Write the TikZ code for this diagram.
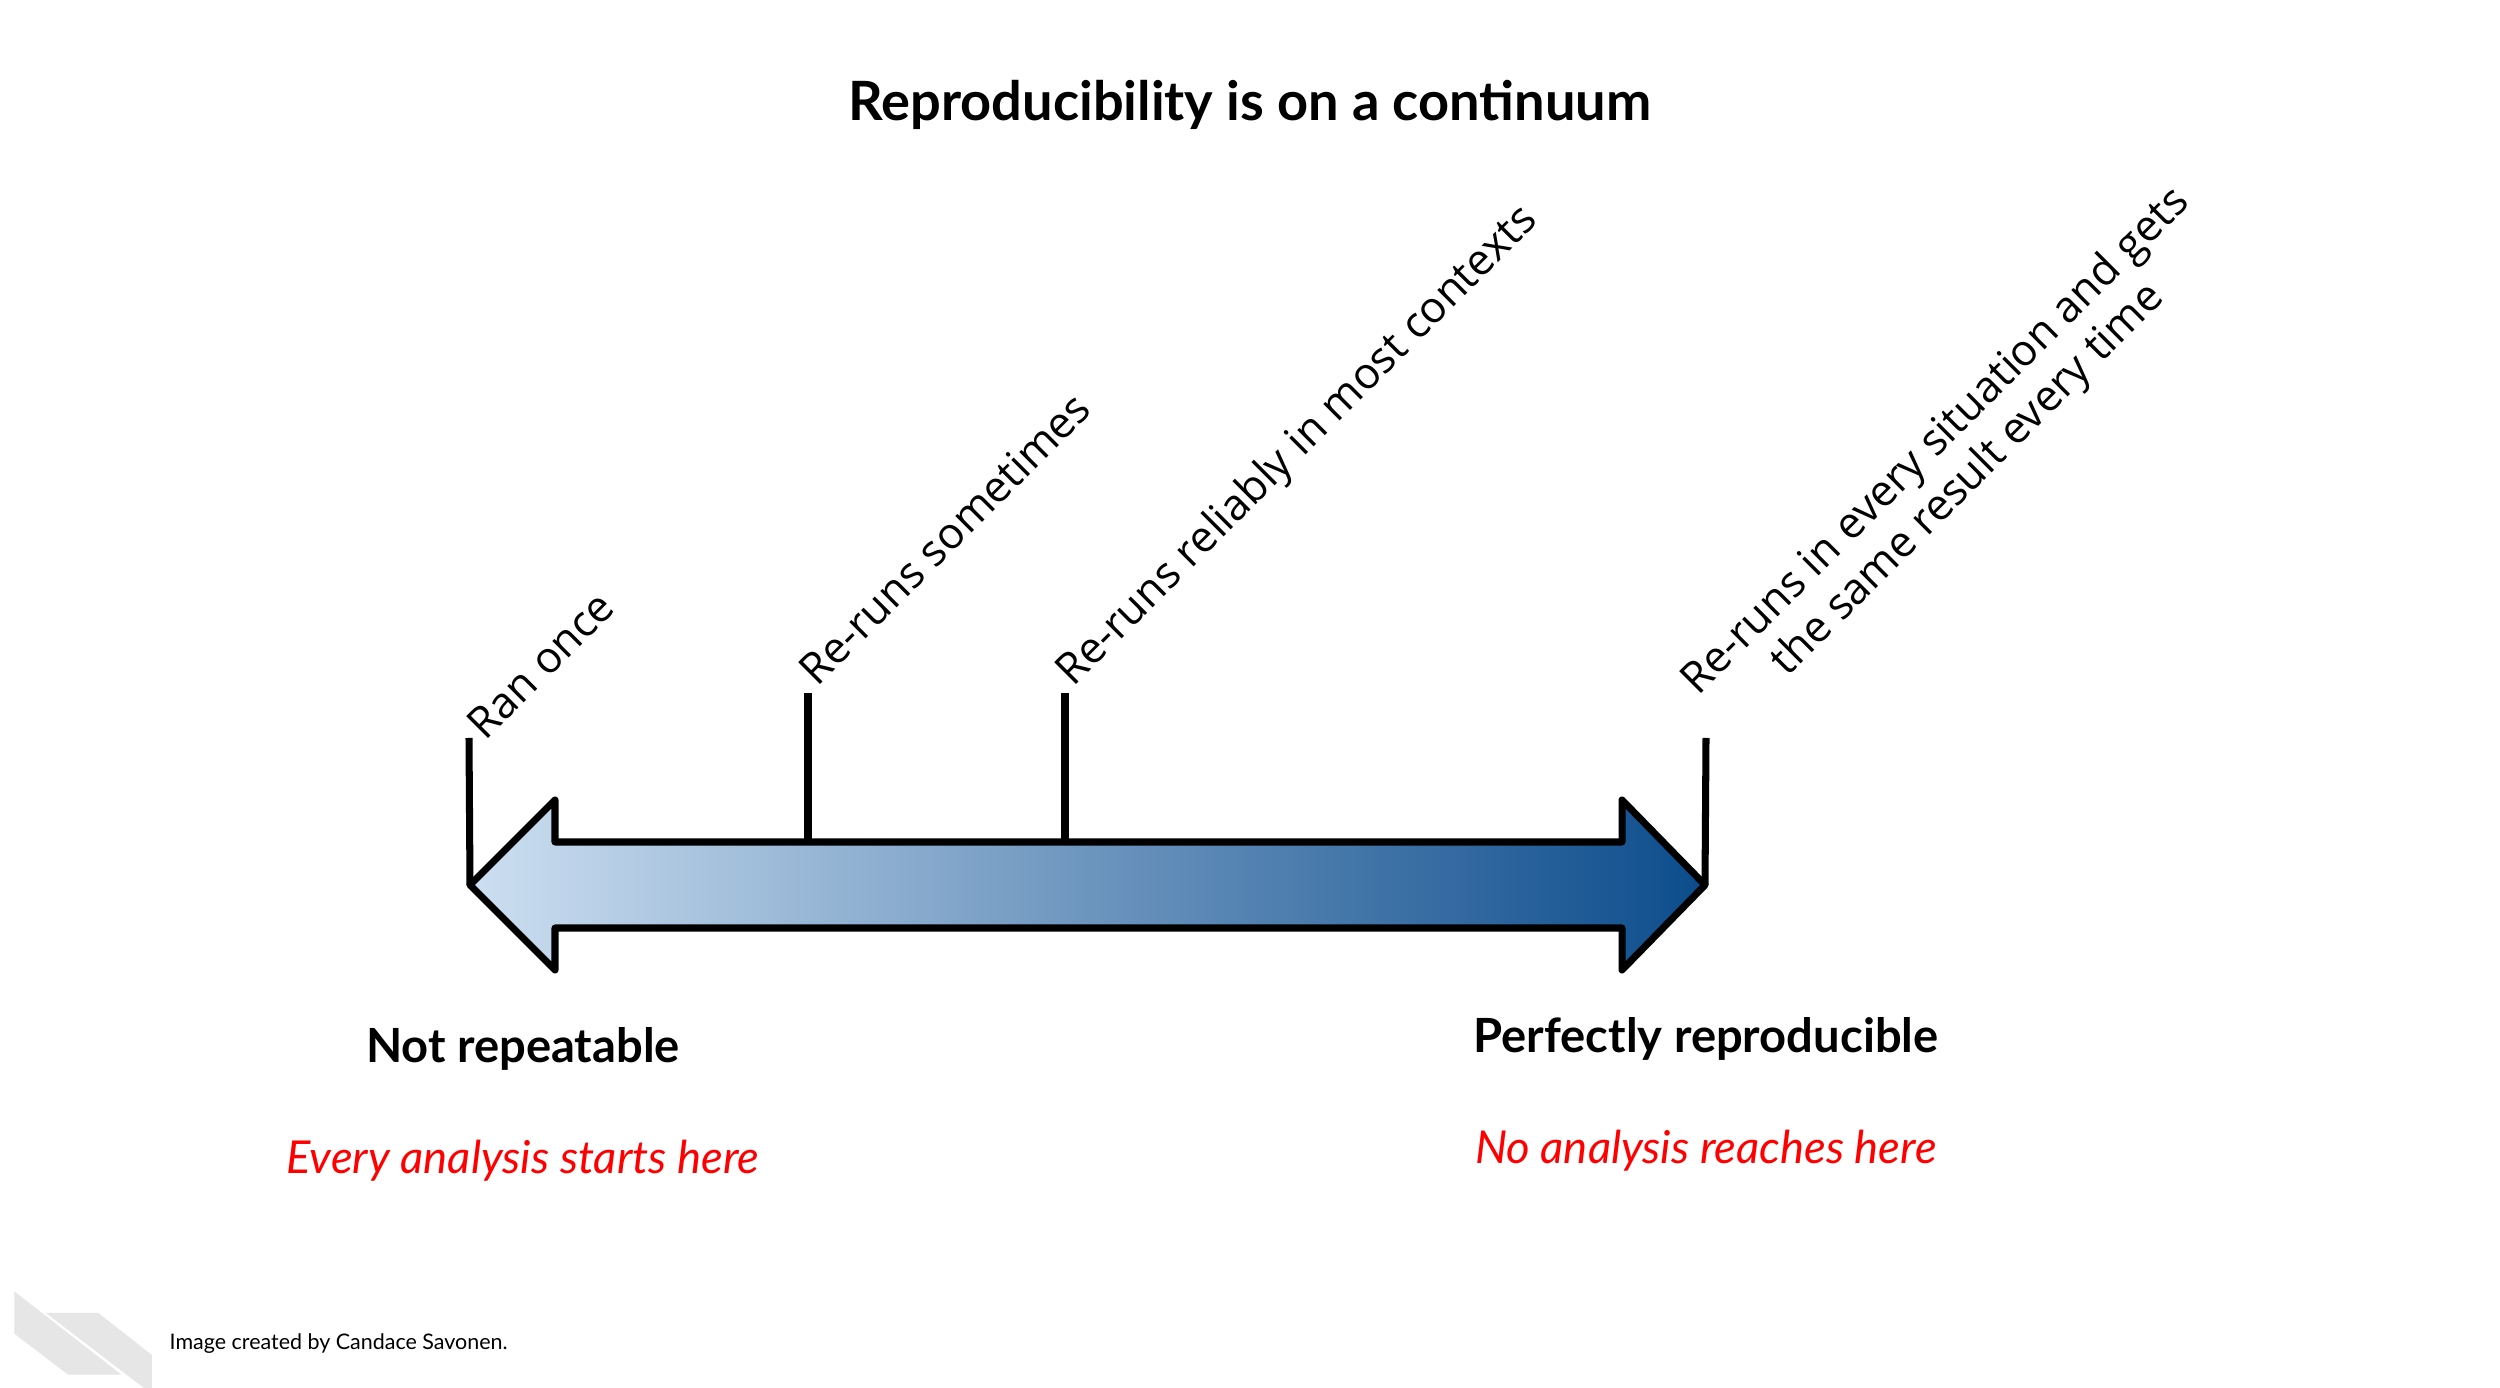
\documentclass[tikz,border=0pt]{standalone}
\usepackage{fontspec}
\setmainfont{Lato}
\newfontfamily\opensans{Open Sans}
\definecolor{arrowlight}{RGB}{205,223,241}
\definecolor{arrowdark}{RGB}{12,76,140}
\definecolor{logogray}{RGB}{230,230,230}
\definecolor{notered}{RGB}{255,0,0}
\begin{document}
\begin{tikzpicture}[x=0.01cm,y=0.01cm,
  tickline/.style={line width=2pt, line cap=butt},
  steplabel/.style={rotate=45, anchor=base west, inner sep=0pt, font=\opensans\fontsize{12.3}{14.8}\selectfont},
  endlabel/.style={anchor=base, inner sep=0pt, font=\bfseries\fontsize{13.4}{16}\selectfont},
  notelabel/.style={anchor=base, inner sep=0pt, text=notered, font=\itshape\fontsize{12.9}{15.5}\selectfont}]
\useasboundingbox (0,0) rectangle (2500,1388);
\fill[white] (0,0) rectangle (2500,1388);

% title
\node[anchor=base, inner sep=0pt, font=\bfseries\fontsize{15.4}{18}\selectfont] (title) at (1250,1267) {Reproducibility is on a continuum};

% arrow geometry
\coordinate (ltip) at (470,503);
\coordinate (rtip) at (1705,503);
\coordinate (s1) at (808,546);
\coordinate (s2) at (1065,546);
\draw[line width=2pt, line join=round, left color=arrowlight, right color=arrowdark]
  (ltip) -- (555,588) -- (555,546) -- (1622,546) -- (1622,588) -- (rtip)
  -- (1622,418) -- (1622,460) -- (555,460) -- (555,418) -- cycle;

% ticks
\coordinate (t1) at (469,650);
\coordinate (t2) at (808,695);
\coordinate (t3) at (1065,695);
\coordinate (t4) at (1706,650);
\draw[tickline] (t1) -- (ltip);
\draw[tickline] (t2) -- (s1);
\draw[tickline] (t3) -- (s2);
\draw[tickline] (t4) -- (rtip);

% step labels
\node[steplabel] (l1) at ([shift={(16,-4)}]t1) {Ran once};
\node[steplabel] (l2) at ([shift={(9,5)}]t2) {Re-runs sometimes};
\node[steplabel] (l3) at ([shift={(8,5)}]t3) {Re-runs reliably in most contexts};
\node[steplabel] (l4a) at ([shift={(-8,41)}]t4) {Re-runs in every situation and gets};
\node[steplabel] (l4b) at ([shift={(81,60)}]t4) {the same result every time};

% end labels
\node[endlabel] (notrep) at (523,325) {Not repeatable};
\node[endlabel] (perfrep) at (1706,335) {Perfectly reproducible};
\node[notelabel] (every) at (523,214) {Every analysis starts here};
\node[notelabel] (noan) at (1706,224) {No analysis reaches here};

% logo
\fill[logogray] (14.3,96.6) -- (121.4,13.4) -- (67.9,13.4) -- (14.3,54.4) -- cycle;
\fill[logogray] (45.7,75.1) -- (98.2,75.1) -- (151.8,33) -- (151.8,0) -- (144,0) -- cycle;

% footer
\node[anchor=base west, inner sep=0pt, font=\fontsize{6.1}{7.5}\selectfont] (credit) at (169,38) {Image created by Candace Savonen.};
\end{tikzpicture}
\end{document}
